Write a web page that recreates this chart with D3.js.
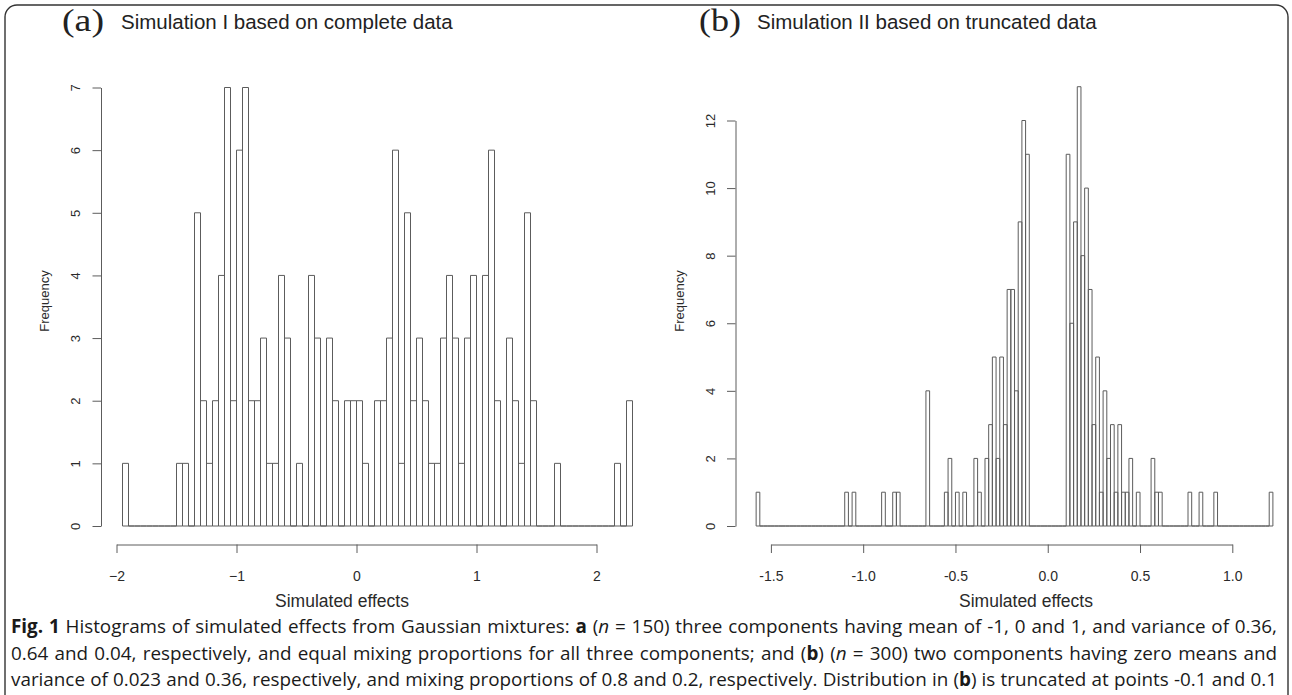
<!DOCTYPE html>
<html>
<head>
<meta charset="utf-8">
<script src="https://cdn.jsdelivr.net/npm/d3@7"></script>
<style>
  html, body { margin: 0; padding: 0; background: #fff; }
  svg { display: block; }
</style>
</head>
<body>
<svg id="fig" width="1292" height="695"></svg>
<script>
// ---- Histogram (a): 150 draws, bins of width 0.05 starting at -1.95 ----
const countsA = [
  1,0,0,0,0,0,0,0,0,1,  1,0,5,2,1,2,4,7,2,6,
  7,2,2,3,1,1,4,3,0,1,  0,4,3,0,3,2,0,2,2,2,
  1,0,2,2,3,6,1,5,2,3,  2,1,1,3,4,3,1,3,4,0,
  4,6,2,0,3,2,1,5,2,0,  0,0,1,0,0,0,0,0,0,0,
  0,0,1,0,2
];
const binStartA = -1.95;
const binWidthA = 0.05;

// ---- Histogram (b): truncated sample, bins of width 0.02 starting at -1.58 ----
const countsB = [
  1,0,0,0,0,0,0,0,0,0,  0,0,0,0,0,0,0,0,0,0,
  0,0,0,0,1,0,1,0,0,0,  0,0,0,0,1,0,0,1,1,0,
  0,0,0,0,0,0,4,0,0,0,  0,1,2,0,1,0,1,0,0,2,
  1,0,2,3,5,2,5,3,7,7,  4,9,12,11,0,0,0,0,0,0,
  0,0,0,0,11,6,9,13,8,10, 7,3,5,1,4,2,3,1,3,1,
  1,2,0,1,0,0,0,2,1,1,  0,0,0,0,0,0,0,1,0,0,
  1,0,0,0,1,0,0,0,0,0,  0,0,0,0,0,0,0,0,0,1
];
const binStartB = -1.58;
const binWidthB = 0.02;

// ---- Axis ticks and texts ----
const xTicksA = [-2, -1, 0, 1, 2];
const yTicksA = [0, 1, 2, 3, 4, 5, 6, 7];
const xTicksB = [-1.5, -1.0, -0.5, 0.0, 0.5, 1.0];
const yTicksB = [0, 2, 4, 6, 8, 10, 12];
const tagA = "(a)", titleA = "Simulation I based on complete data";
const tagB = "(b)", titleB = "Simulation II based on truncated data";
const xLabel = "Simulated effects";
const yLabel = "Frequency";

const captionLines = [
  [["Fig. 1", "b"], [" Histograms of simulated effects from Gaussian mixtures: "], ["a", "b"], [" ("], ["n", "i"],
   [" = 150) three components having mean of -1, 0 and 1, and variance of 0.36,"]],
  [["0.64 and 0.04, respectively, and equal mixing proportions for all three components; and ("], ["b", "b"],
   [") ("], ["n", "i"], [" = 300) two components having zero means and"]],
  [["variance of 0.023 and 0.36, respectively, and mixing proportions of 0.8 and 0.2, respectively. Distribution in ("],
   ["b", "b"], [") is truncated at points -0.1 and 0.1"]]
];

const svg = d3.select("#fig");
const INK = "#5c5c5c";
const TEXT = "#2a2a2a";
const SANS = "'Liberation Sans', Arial, Helvetica, sans-serif";
const SERIF = "'Liberation Serif', 'Times New Roman', serif";

// figure frame
svg.append("rect")
  .attr("x", 5).attr("y", 5).attr("width", 1283).attr("height", 760)
  .attr("rx", 12).attr("ry", 12)
  .attr("fill", "none").attr("stroke", "#333").attr("stroke-width", 1.4);

const panels = [
  {
    tag: tagA, title: titleA, counts: countsA, start: binStartA, width: binWidthA,
    x: d3.scaleLinear().domain([-2, 2]).range([116.5, 596.5]),
    y: d3.scaleLinear().domain([0, 7]).range([526, 87.5]),
    xTicks: xTicksA, yTicks: yTicksA,
    xFmt: v => (v < 0 ? "\u2212" + Math.abs(v) : String(v)),
    yAxisX: 101, xTitleX: 342, tagX: 62, titleX: 121
  },
  {
    tag: tagB, title: titleB, counts: countsB, start: binStartB, width: binWidthB,
    x: d3.scaleLinear().domain([-1.5, 1.0]).range([770.9, 1232.3]),
    y: d3.scaleLinear().domain([0, 12]).range([526, 120.5]),
    xTicks: xTicksB, yTicks: yTicksB,
    xFmt: v => v.toFixed(1),
    yAxisX: 735.5, xTitleX: 1026, tagX: 699, titleX: 757
  }
];

const xAxisY = 544.5;
const tickLen = 8.5;

panels.forEach(p => {
  const g = svg.append("g");

  // bars: every bin drawn as a closed outline, so empty bins leave a line on the base
  g.append("g")
    .selectAll("path")
    .data(p.counts)
    .join("path")
    .attr("d", (c, i) => {
      const x0 = p.x(p.start + i * p.width);
      const x1 = p.x(p.start + (i + 1) * p.width);
      const y0 = p.y(0), y1 = p.y(c);
      return `M${x0},${y0}V${y1}H${x1}V${y0}Z`;
    })
    .attr("fill", "none")
    .attr("stroke", INK)
    .attr("stroke-width", 1);

  // x axis
  const gx = g.append("g")
    .attr("transform", `translate(0,${xAxisY})`)
    .call(d3.axisBottom(p.x).tickValues(p.xTicks).tickFormat(p.xFmt)
      .tickSizeInner(tickLen).tickSizeOuter(0));
  gx.selectAll(".tick text")
    .attr("y", 36).attr("dy", null)
    .attr("font-family", SANS).attr("font-size", 14).attr("fill", TEXT);

  // y axis with labels running along the axis
  const gy = g.append("g")
    .attr("transform", `translate(${p.yAxisX},0)`)
    .call(d3.axisLeft(p.y).tickValues(p.yTicks).tickFormat(d3.format("d"))
      .tickSizeInner(tickLen).tickSizeOuter(0));
  gy.selectAll(".tick text")
    .attr("transform", "rotate(-90)")
    .attr("x", 0).attr("y", -21).attr("dy", null)
    .attr("text-anchor", "middle")
    .attr("font-family", SANS).attr("font-size", 13).attr("fill", TEXT);

  [gx, gy].forEach(a => {
    a.select(".domain").attr("stroke", INK).attr("stroke-width", 1);
    a.selectAll(".tick line").attr("stroke", INK).attr("stroke-width", 1);
  });

  // axis titles
  g.append("text")
    .attr("x", p.xTitleX).attr("y", 607)
    .attr("text-anchor", "middle")
    .attr("font-family", SANS).attr("font-size", 17.5).attr("fill", TEXT)
    .text(xLabel);
  g.append("text")
    .attr("transform", `translate(${p.yAxisX - 52},301) rotate(-90)`)
    .attr("text-anchor", "middle")
    .attr("font-family", SANS).attr("font-size", 13).attr("fill", TEXT)
    .text(yLabel);

  // panel heading
  g.append("text")
    .attr("x", p.tagX).attr("y", 31)
    .attr("font-family", SERIF).attr("font-size", 31).attr("fill", "#222")
    .attr("textLength", 42).attr("lengthAdjust", "spacingAndGlyphs")
    .text(p.tag);
  g.append("text")
    .attr("x", p.titleX).attr("y", 29)
    .attr("font-family", SANS).attr("font-size", 20.5).attr("fill", "#222")
    .text(p.title);
});

// caption: font sized so the longest line fits, then each line justified
const capX = 11, capW = 1266;
const capBase = [633, 659.5, 686];
const capNodes = captionLines.map((parts, li) => {
  const t = svg.append("text")
    .attr("x", capX).attr("y", capBase[li])
    .attr("font-family", "'Open Sans', 'Noto Sans', sans-serif")
    .attr("font-size", 17).attr("fill", "#1a1a1a")
    .style("white-space", "pre");
  parts.forEach(([s, f]) => {
    const ts = t.append("tspan").text(s);
    if (f === "b") ts.attr("font-weight", "bold");
    if (f === "i") ts.attr("font-style", "italic");
  });
  return { t, parts };
});
const widest = d3.max(capNodes, d => d.t.node().getComputedTextLength());
const capSize = 17 * (capW - 6) / widest;
capNodes.forEach(({ t, parts }) => {
  t.attr("font-size", capSize);
  const natural = t.node().getComputedTextLength();
  const spaces = parts.map(d => d[0]).join("").split(" ").length - 1;
  t.attr("word-spacing", (capW - natural) / spaces);
});
</script>
</body>
</html>
